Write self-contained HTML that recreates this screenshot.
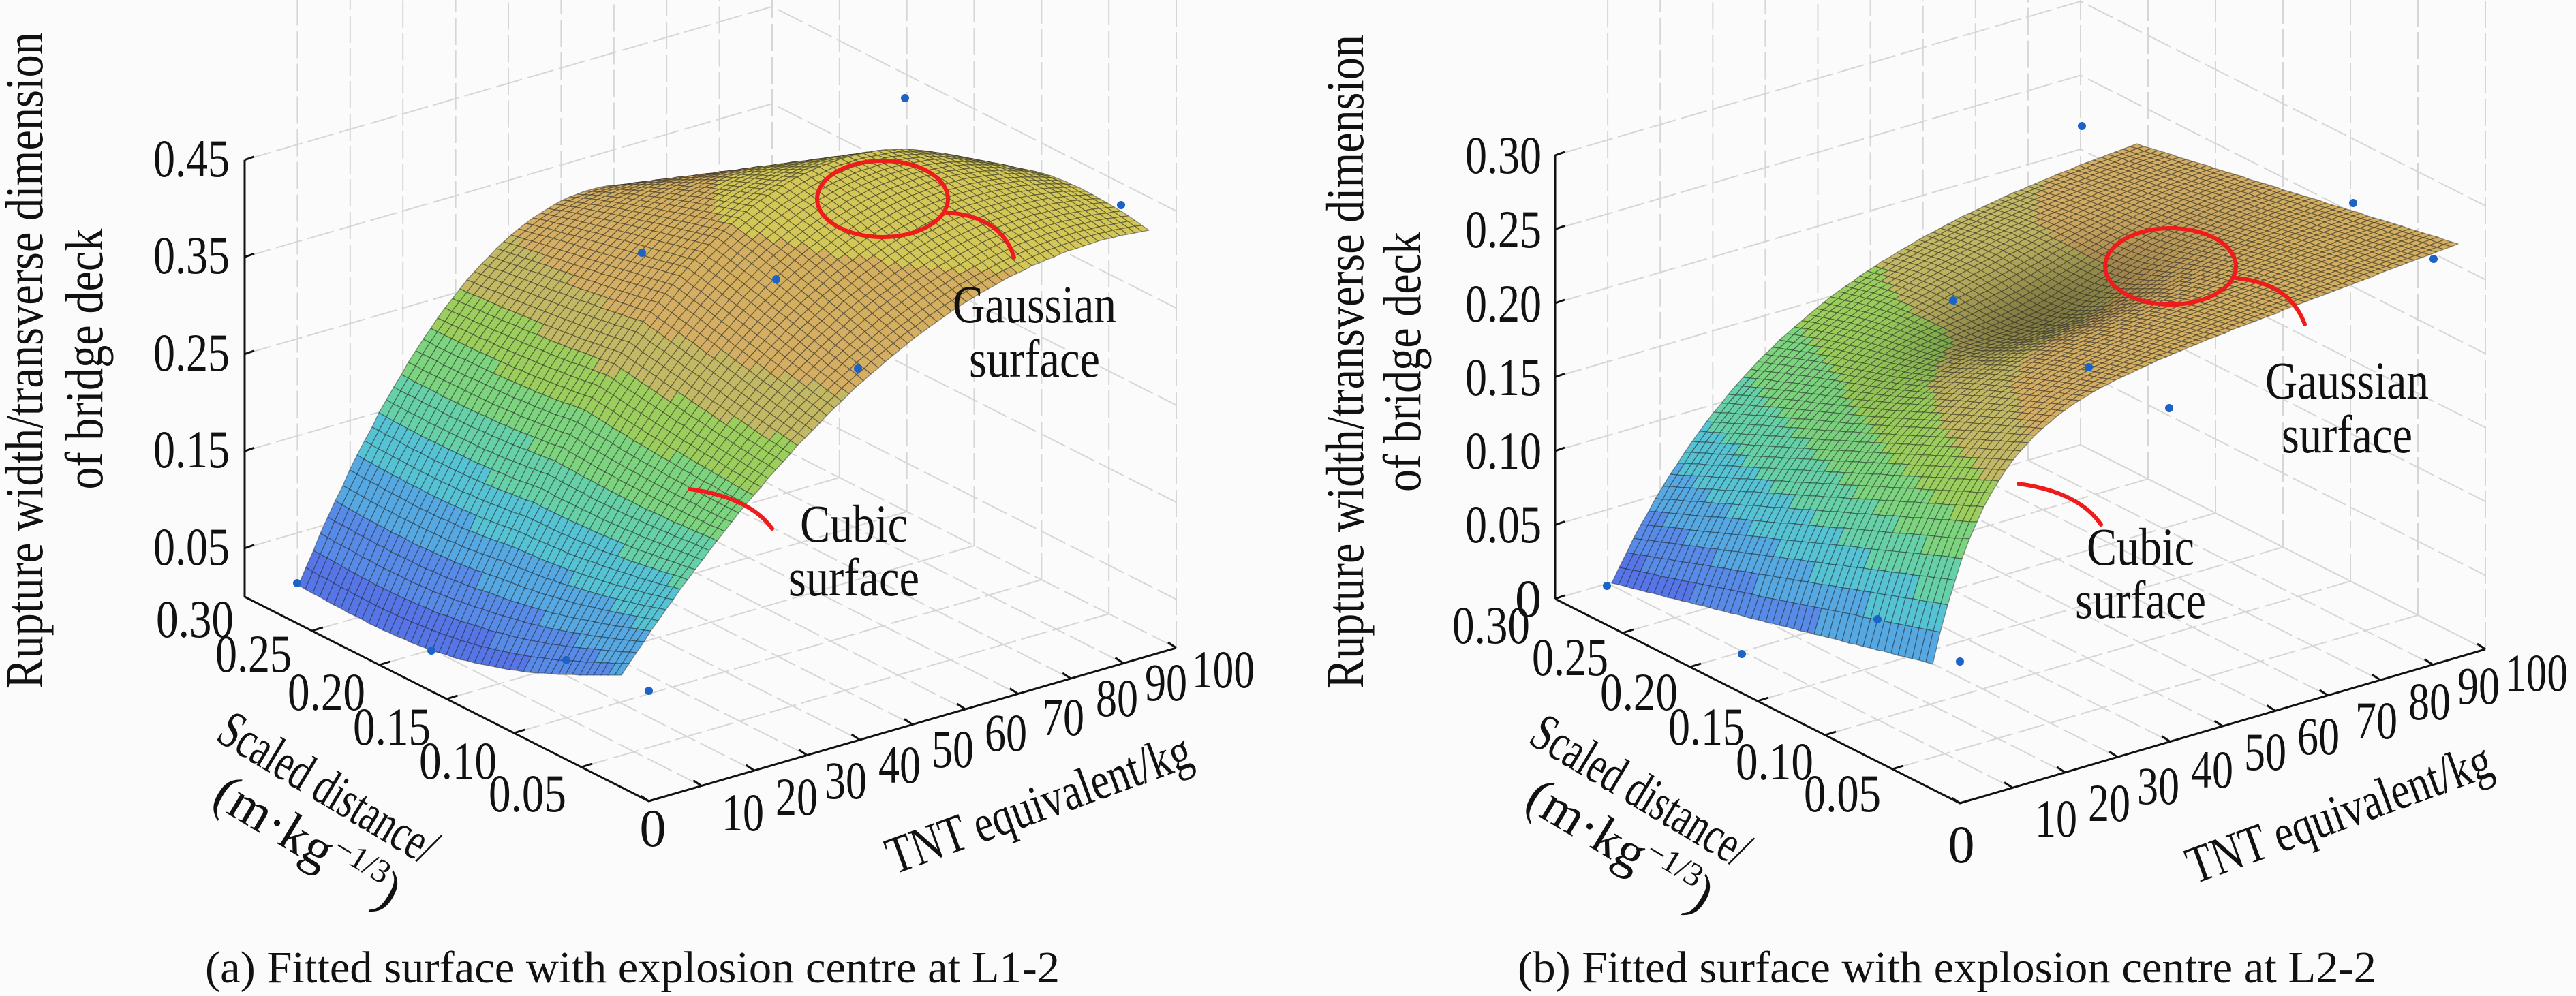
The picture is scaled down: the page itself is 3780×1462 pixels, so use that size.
<!DOCTYPE html>
<html><head><meta charset="utf-8"><style>
html,body{margin:0;padding:0;background:#fff;}
svg{display:block;}
text{font-family:"Liberation Serif",serif;fill:#111;}
</style></head><body>
<svg id="s" width="3780" height="1462" viewBox="0 0 3780 1462" xmlns="http://www.w3.org/2000/svg">
<rect width="3780" height="1462" fill="#fbfbfb"/>
<g id="grid" stroke="#d6d6d6" stroke-width="2" fill="none" stroke-dasharray="40 8"></g>
<g id="axes" stroke="#111" stroke-width="3" fill="none"></g>
<g id="surf"></g>
<g id="dots" fill="#1b63c6"></g>
<g font-size="78">
<text x="337" y="259" text-anchor="end" textLength="112" lengthAdjust="spacingAndGlyphs">0.45</text>
<text x="337" y="401" text-anchor="end" textLength="112" lengthAdjust="spacingAndGlyphs">0.35</text>
<text x="337" y="544" text-anchor="end" textLength="112" lengthAdjust="spacingAndGlyphs">0.25</text>
<text x="337" y="686" text-anchor="end" textLength="112" lengthAdjust="spacingAndGlyphs">0.15</text>
<text x="337" y="829" text-anchor="end" textLength="112" lengthAdjust="spacingAndGlyphs">0.05</text>
<text x="229" y="935" textLength="114" lengthAdjust="spacingAndGlyphs">0.30</text>
<text x="316" y="986" textLength="112" lengthAdjust="spacingAndGlyphs">0.25</text>
<text x="422" y="1042" textLength="114" lengthAdjust="spacingAndGlyphs">0.20</text>
<text x="518" y="1093" textLength="114" lengthAdjust="spacingAndGlyphs">0.15</text>
<text x="615" y="1143" textLength="114" lengthAdjust="spacingAndGlyphs">0.10</text>
<text x="717" y="1191" textLength="114" lengthAdjust="spacingAndGlyphs">0.05</text>
<text x="958" y="1242" text-anchor="middle">0</text>
<text x="1090" y="1219" text-anchor="middle" textLength="62" lengthAdjust="spacingAndGlyphs">10</text>
<text x="1169" y="1196" text-anchor="middle" textLength="62" lengthAdjust="spacingAndGlyphs">20</text>
<text x="1241" y="1172" text-anchor="middle" textLength="62" lengthAdjust="spacingAndGlyphs">30</text>
<text x="1320" y="1149" text-anchor="middle" textLength="62" lengthAdjust="spacingAndGlyphs">40</text>
<text x="1398" y="1126" text-anchor="middle" textLength="62" lengthAdjust="spacingAndGlyphs">50</text>
<text x="1476" y="1102" text-anchor="middle" textLength="62" lengthAdjust="spacingAndGlyphs">60</text>
<text x="1560" y="1079" text-anchor="middle" textLength="62" lengthAdjust="spacingAndGlyphs">70</text>
<text x="1639" y="1051" text-anchor="middle" textLength="62" lengthAdjust="spacingAndGlyphs">80</text>
<text x="1711" y="1028" text-anchor="middle" textLength="62" lengthAdjust="spacingAndGlyphs">90</text>
<text x="1795" y="1009" text-anchor="middle" textLength="92" lengthAdjust="spacingAndGlyphs">100</text>
<text transform="translate(62,529) rotate(-90)" text-anchor="middle" textLength="964" lengthAdjust="spacingAndGlyphs">Rupture width/transverse dimension</text>
<text transform="translate(150,527) rotate(-90)" text-anchor="middle" textLength="383" lengthAdjust="spacingAndGlyphs">of bridge deck</text>
<text transform="translate(482,1156) rotate(31)" text-anchor="middle" dy="26" textLength="360" lengthAdjust="spacingAndGlyphs">Scaled distance/</text>
<text transform="translate(452,1235) rotate(31)" text-anchor="middle" dy="26">(m·kg<tspan font-size="48" dy="-28">−1/3</tspan><tspan dy="28">)</tspan></text>
<text transform="translate(1524,1179) rotate(-20)" text-anchor="middle" dy="26" textLength="470" lengthAdjust="spacingAndGlyphs">TNT equivalent/kg</text>
<text x="1518" y="473" text-anchor="middle" textLength="240" lengthAdjust="spacingAndGlyphs">Gaussian</text>
<text x="1518" y="553" text-anchor="middle" textLength="192" lengthAdjust="spacingAndGlyphs">surface</text>
<text x="1253" y="795" text-anchor="middle" textLength="158" lengthAdjust="spacingAndGlyphs">Cubic</text>
<text x="1253" y="874" text-anchor="middle" textLength="192" lengthAdjust="spacingAndGlyphs">surface</text>
<text x="928" y="1442" text-anchor="middle" font-size="66" textLength="1254" lengthAdjust="spacingAndGlyphs">(a) Fitted surface with explosion centre at L1-2</text>

<text x="2262" y="254" text-anchor="end" textLength="112" lengthAdjust="spacingAndGlyphs">0.30</text>
<text x="2262" y="363" text-anchor="end" textLength="112" lengthAdjust="spacingAndGlyphs">0.25</text>
<text x="2262" y="472" text-anchor="end" textLength="112" lengthAdjust="spacingAndGlyphs">0.20</text>
<text x="2262" y="580" text-anchor="end" textLength="112" lengthAdjust="spacingAndGlyphs">0.15</text>
<text x="2262" y="688" text-anchor="end" textLength="112" lengthAdjust="spacingAndGlyphs">0.10</text>
<text x="2262" y="796" text-anchor="end" textLength="112" lengthAdjust="spacingAndGlyphs">0.05</text>
<text x="2262" y="905" text-anchor="end">0</text>
<text x="2131" y="944" textLength="114" lengthAdjust="spacingAndGlyphs">0.30</text>
<text x="2248" y="991" textLength="112" lengthAdjust="spacingAndGlyphs">0.25</text>
<text x="2348" y="1042" textLength="114" lengthAdjust="spacingAndGlyphs">0.20</text>
<text x="2448" y="1093" textLength="112" lengthAdjust="spacingAndGlyphs">0.15</text>
<text x="2547" y="1144" textLength="114" lengthAdjust="spacingAndGlyphs">0.10</text>
<text x="2647" y="1191" textLength="113" lengthAdjust="spacingAndGlyphs">0.05</text>
<text x="2878" y="1266" text-anchor="middle">0</text>
<text x="3017" y="1228" text-anchor="middle" textLength="62" lengthAdjust="spacingAndGlyphs">10</text>
<text x="3095" y="1205" text-anchor="middle" textLength="62" lengthAdjust="spacingAndGlyphs">20</text>
<text x="3167" y="1180" text-anchor="middle" textLength="62" lengthAdjust="spacingAndGlyphs">30</text>
<text x="3246" y="1156" text-anchor="middle" textLength="62" lengthAdjust="spacingAndGlyphs">40</text>
<text x="3324" y="1130" text-anchor="middle" textLength="62" lengthAdjust="spacingAndGlyphs">50</text>
<text x="3402" y="1107" text-anchor="middle" textLength="62" lengthAdjust="spacingAndGlyphs">60</text>
<text x="3487" y="1084" text-anchor="middle" textLength="62" lengthAdjust="spacingAndGlyphs">70</text>
<text x="3565" y="1056" text-anchor="middle" textLength="62" lengthAdjust="spacingAndGlyphs">80</text>
<text x="3637" y="1033" text-anchor="middle" textLength="62" lengthAdjust="spacingAndGlyphs">90</text>
<text x="3722" y="1014" text-anchor="middle" textLength="92" lengthAdjust="spacingAndGlyphs">100</text>
<text transform="translate(2000,531) rotate(-90)" text-anchor="middle" textLength="960" lengthAdjust="spacingAndGlyphs">Rupture width/transverse dimension</text>
<text transform="translate(2084,531) rotate(-90)" text-anchor="middle" textLength="382" lengthAdjust="spacingAndGlyphs">of bridge deck</text>
<text transform="translate(2408,1160) rotate(31)" text-anchor="middle" dy="26" textLength="360" lengthAdjust="spacingAndGlyphs">Scaled distance/</text>
<text transform="translate(2378,1240) rotate(31)" text-anchor="middle" dy="26">(m·kg<tspan font-size="48" dy="-28">−1/3</tspan><tspan dy="28">)</tspan></text>
<text transform="translate(3432,1193) rotate(-20)" text-anchor="middle" dy="26" textLength="470" lengthAdjust="spacingAndGlyphs">TNT equivalent/kg</text>
<text x="3444" y="585" text-anchor="middle" textLength="240" lengthAdjust="spacingAndGlyphs">Gaussian</text>
<text x="3444" y="664" text-anchor="middle" textLength="192" lengthAdjust="spacingAndGlyphs">surface</text>
<text x="3141" y="829" text-anchor="middle" textLength="158" lengthAdjust="spacingAndGlyphs">Cubic</text>
<text x="3141" y="907" text-anchor="middle" textLength="192" lengthAdjust="spacingAndGlyphs">surface</text>
<text x="2857" y="1442" text-anchor="middle" font-size="66" textLength="1260" lengthAdjust="spacingAndGlyphs">(b) Fitted surface with explosion centre at L2-2</text>
</g>
<g stroke="#ee1c1c" stroke-width="6" fill="none" stroke-linecap="round">
<ellipse cx="1295" cy="292" rx="96" ry="56"/>
<path d="M1390,312 Q1470,318 1488,378"/>
<path d="M1012,718 Q1100,730 1133,776"/>
<ellipse cx="3185" cy="391" rx="96" ry="56"/>
<path d="M3280,408 Q3360,415 3382,476"/>
<path d="M2962,710 Q3050,722 3083,770"/>
</g>
</svg>
<script>
(function(){
var NS="http://www.w3.org/2000/svg";
function el(p,n,a){var e=document.createElementNS(NS,n);for(var k in a)e.setAttribute(k,a[k]);p.appendChild(e);return e;}
var grid=document.getElementById('grid'),axes=document.getElementById('axes'),surf=document.getElementById('surf'),dots=document.getElementById('dots');
var stops=[[0,[60,65,225]],[0.2,[65,120,230]],[0.36,[60,185,215]],[0.5,[90,210,130]],[0.62,[140,200,70]],[0.74,[205,165,80]],[0.86,[205,160,75]],[1,[205,205,60]]];
function cmap(v){v=Math.max(0,Math.min(1,v));for(var i=1;i<stops.length;i++){if(v<=stops[i][0]){var a=stops[i-1],b=stops[i],f=(v-a[0])/(b[0]-a[0]);return [0,1,2].map(function(j){return Math.round((a[1][j]+(b[1][j]-a[1][j])*f)*0.88+255*0.12);});}}return stops[stops.length-1][1];}
function panel(P){
 var A=P.A,B=P.B,C=P.C,k=P.k;
 function pr(sd,t,z){var s=(0.3-sd)/0.3;return [A[0]+s*(B[0]-A[0])+t*(C[0]-B[0]),A[1]+s*(B[1]-A[1])+t*(C[1]-B[1])-z*k];}
 var top=0;
 for(var i=1;i<=10;i++){var p=pr(0.3,i/10,0);el(grid,'line',{x1:p[0],y1:p[1],x2:p[0],y2:top});}
 for(var j=0;j<6;j++){var sd=j*0.05;var p=pr(sd,1,0);el(grid,'line',{x1:p[0],y1:p[1],x2:p[0],y2:top});}
 P.zt.forEach(function(z){var a=pr(0.3,0,z),d=pr(0.3,1,z),c=pr(0,1,z);el(grid,'polyline',{points:a+' '+d+' '+c});});
 for(var i=1;i<=10;i++){var a=pr(0.3,i/10,0),b=pr(0,i/10,0);el(grid,'line',{x1:a[0],y1:a[1],x2:b[0],y2:b[1]});}
 for(var j=1;j<6;j++){var sd=j*0.05;var a=pr(sd,0,0),b=pr(sd,1,0);el(grid,'line',{x1:a[0],y1:a[1],x2:b[0],y2:b[1]});}
 var zt=pr(0.3,0,P.zt[P.zt.length-1]);
 el(axes,'line',{x1:A[0],y1:A[1],x2:zt[0],y2:zt[1]});
 P.zt.forEach(function(z){var p=pr(0.3,0,z);el(axes,'line',{x1:p[0],y1:p[1],x2:p[0]+14,y2:p[1]-5});});
 el(axes,'polyline',{points:A+' '+B+' '+C});
 for(var j=0;j<6;j++){var p=pr(j*0.05,0,0);el(axes,'line',{x1:p[0],y1:p[1],x2:p[0]+16,y2:p[1]-5});}
 for(var i=0;i<=10;i++){var p=pr(0,i/10,0);el(axes,'line',{x1:p[0],y1:p[1],x2:p[0]-12,y2:p[1]-8});}
 var NT=72,NS2=46,q=[];
 var sd0=P.sd0,sd1=P.sd1;
 var pts=[];
 for(var a=0;a<=NS2;a++){pts[a]=[];for(var b=0;b<=NT;b++){var s=a/NS2,t=b/NT,sd=sd0+(sd1-sd0)*s;var z=P.f(s,t);pts[a][b]=[pr(sd,t,z),z];}}
 for(var a=0;a<NS2;a++)for(var b=0;b<NT;b++){q.push([a/NS2+b/NT,a,b]);}
 q.sort(function(x,y){return y[0]-x[0];});
 var html='';
 q.forEach(function(e){var a=e[1],b=e[2];var p1=pts[a][b],p2=pts[a][b+1],p3=pts[a+1][b+1],p4=pts[a+1][b];
  var z=(p1[1]+p2[1]+p3[1]+p4[1])/4;var v=Math.floor(z/P.zmax*12)/12+0.04;var c=cmap(v);
  if(P.dark){var d=P.dark(a/NS2,b/NT);c=c.map(function(x){return Math.round(x*(1-d));});}
  html+='<polygon points="'+p1[0].map(Math.round)+' '+p2[0].map(Math.round)+' '+p3[0].map(Math.round)+' '+p4[0].map(Math.round)+'" fill="rgb('+c+')"/>';});
 var g=el(surf,'g',{stroke:'rgba(30,30,30,0.45)','stroke-width':'1.3','stroke-linejoin':'round'});
 g.innerHTML=html;
 P.dots.forEach(function(d){el(dots,'circle',{cx:d[0],cy:d[1],r:6});});
}
panel({A:[359,876],B:[952,1176],C:[1726,951],k:1425,zt:[0.05,0.15,0.25,0.35,0.45],zmax:0.45,sd0:0.02,sd1:0.26,
 f:function(s,t){var c0=0.116-0.076*s;var zm=0.42+0.03*Math.sin(Math.PI*Math.min(s,0.5))-0.09*Math.max(0,s-0.5)*2;
  var tp=0.9-0.35*s,w=0.9-0.35*s;var u=(t-tp)/w;var z=c0+(zm-c0)*(1-u*u);z-=0.03*Math.sin(Math.PI*s)*Math.pow(1-t,3);return z;},
 dots:[[1328,144],[1645,301],[942,371],[1139,410],[1259,541],[436,856],[633,955],[831,969],[952,1014]]});
panel({A:[2282,879],B:[2876,1179],C:[3647,953],k:2170,zt:[0,0.05,0.10,0.15,0.20,0.25,0.30],zmax:0.29,sd0:0.02,sd1:0.258,
 f:function(s,t){var fr=0.085+0.15*(1-Math.exp(-t/0.1))+0.03*t;var bk=0.03+0.2*(1-Math.exp(-t/0.3));var z=fr+(bk-fr)*s;
  z-=0.02*Math.exp(-(Math.pow((s-0.55)/0.2,2)+Math.pow((t-0.55)/0.2,2)));return z;},
 dark:function(s,t){return 0.35*Math.exp(-(Math.pow((s-0.55)/0.18,2)+Math.pow((t-0.55)/0.22,2)));},
 dots:[[3055,185],[3453,298],[3571,380],[2866,441],[3065,539],[3183,599],[2358,860],[2556,960],[2755,909],[2876,971]]});
})();
</script>
</body></html>
